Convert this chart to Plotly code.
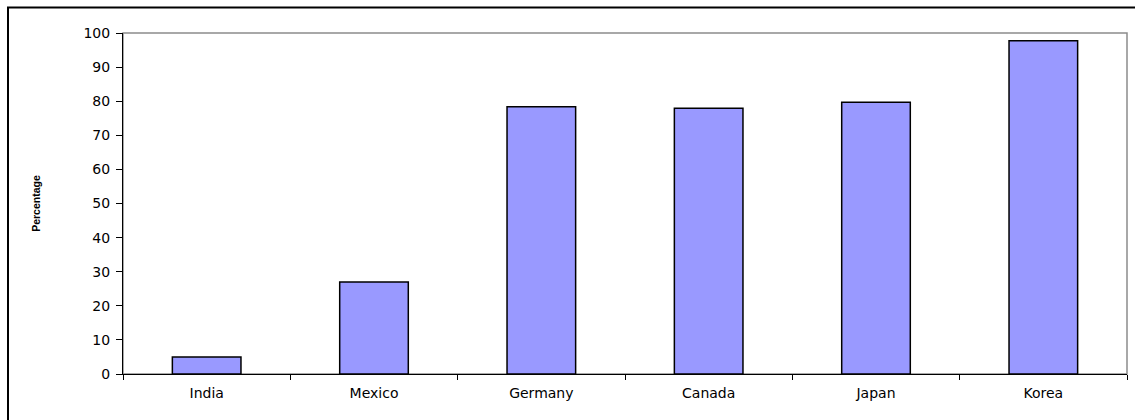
import plotly.graph_objects as go

countries = ["India", "Mexico", "Germany", "Canada", "Japan", "Korea"]
percentages = [5.0, 27.0, 78.4, 77.9, 79.7, 97.7]
y_ticks = [0, 10, 20, 30, 40, 50, 60, 70, 80, 90, 100]

W, H = 1135, 420
L, R, T, B = 123, 8, 33, 46
pw = W - L - R
ph = H - T - B

def px_x(x):
    return (x - L) / pw

def px_y(y):
    return (H - B - y) / ph

fig = go.Figure()
fig.add_trace(go.Bar(
    x=countries, y=percentages,
    marker=dict(color="#9999FF", line=dict(color="#000000", width=1.5)),
    width=0.41,
))

font = dict(family="DejaVu Sans, Arial", size=14, color="#000000")

fig.update_layout(
    width=W, height=H,
    margin=dict(l=L, r=R, t=T, b=B),
    paper_bgcolor="white", plot_bgcolor="white",
    showlegend=False,
    xaxis=dict(
        type="category", tickson="boundaries", ticks="outside", ticklen=5,
        tickcolor="#000000", showline=True, linecolor="#000000", linewidth=1,
        showgrid=False, tickfont=font, zeroline=False, ticklabelstandoff=6,
    ),
    yaxis=dict(
        range=[0, 100], tickvals=y_ticks, ticktext=[str(v) for v in y_ticks],
        ticks="outside", ticklen=6, tickcolor="#000000",
        showline=True, linecolor="#000000", linewidth=1,
        showgrid=False, zeroline=False, tickfont=font, ticklabelstandoff=3,
        title=dict(text="<b>Percentage</b>",
                   font=dict(family="Liberation Sans, Arial", size=10.5, color="#000000"),
                   standoff=40),
    ),
    shapes=[
        # plot-area border (grey)
        dict(type="rect", xref="paper", yref="paper", x0=0, x1=1, y0=0, y1=1,
             line=dict(color="#8c8c8c", width=1.5), layer="below"),
        # outer chart frame
        dict(type="rect", xref="paper", yref="paper",
             x0=px_x(8), x1=px_x(1140), y0=px_y(425), y1=px_y(7.5),
             line=dict(color="#000000", width=2), fillcolor="rgba(0,0,0,0)", layer="below"),
    ],
)

fig.write_html(
    "out.html",
    config={"displayModeBar": False},
    post_script="document.body.style.margin='0';document.body.style.overflow='hidden';",
)
